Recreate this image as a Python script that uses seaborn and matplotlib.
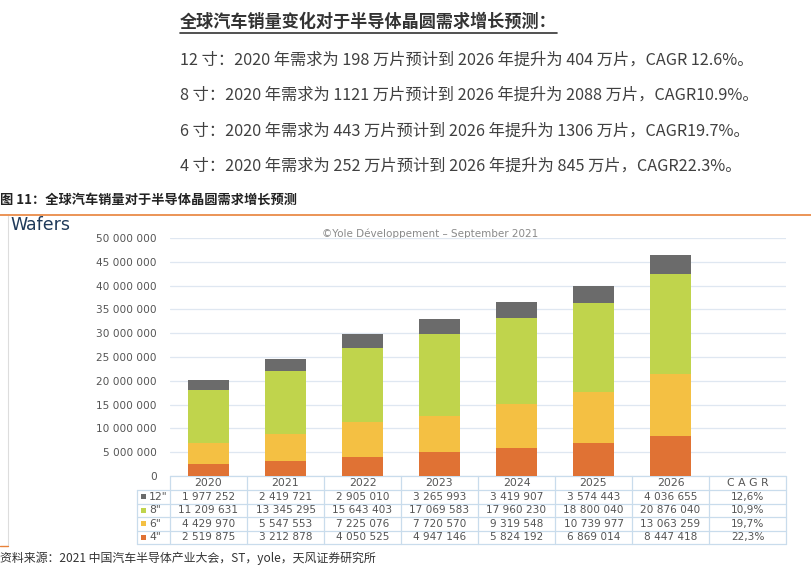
import numpy as np
import pandas as pd
import matplotlib
matplotlib.use("Agg")
import matplotlib.pyplot as plt
import seaborn as sns
from matplotlib.ticker import FuncFormatter
from matplotlib.patches import Rectangle

years = ["2020", "2021", "2022", "2023", "2024", "2025", "2026"]
w12 = [1977252, 2419721, 2905010, 3265993, 3419907, 3574443, 4036655]
w8 = [11209631, 13345295, 15643403, 17069583, 17960230, 18800040, 20876040]
w6 = [4429970, 5547553, 7225076, 7720570, 9319548, 10739977, 13063259]
w4 = [2519875, 3212878, 4050525, 4947146, 5824192, 6869014, 8447418]
cagr = [12.6, 10.9, 19.7, 22.3]
size_labels = ['12"', '8"', '6"', '4"']

title = "全球汽车销量变化对于半导体晶圆需求增长预测："
lines = [
    "12 寸：2020 年需求为 198 万片预计到 2026 年提升为 404 万片，CAGR 12.6%。",
    "8 寸：2020 年需求为 1121 万片预计到 2026 年提升为 2088 万片，CAGR10.9%。",
    "6 寸：2020 年需求为 443 万片预计到 2026 年提升为 1306 万片，CAGR19.7%。",
    "4 寸：2020 年需求为 252 万片预计到 2026 年提升为 845 万片，CAGR22.3%。",
]
caption = "图 11：全球汽车销量对于半导体晶圆需求增长预测"
source = "资料来源：2021 中国汽车半导体产业大会，ST，yole，天风证券研究所"

c12, c8, c6, c4 = "#6b6b6b", "#c0d44c", "#f4c043", "#e07234"

df = pd.DataFrame({"year": years, "w12": w12, "w8": w8, "w6": w6, "w4": w4})
df["s4"] = df["w4"]
df["s6"] = df["s4"] + df["w6"]
df["s8"] = df["s6"] + df["w8"]
df["s12"] = df["s8"] + df["w12"]

sns.set_theme(style="white")
plt.rcParams["font.family"] = ["Noto Sans CJK SC", "DejaVu Sans"]

fig = plt.figure(figsize=(8.11, 5.68), dpi=100)

# overlay in pixel coordinates for the page texts and the table
ov = fig.add_axes([0, 0, 1, 1], zorder=0)
ov.set_xlim(0, 811)
ov.set_ylim(568, 0)
ov.axis("off")

t = ov.text(180, 22, title, fontsize=12.3, fontweight="bold", color="#333333", va="center", ha="left")
for i, ln in enumerate(lines):
    ov.text(180, 60 + i * 35.5, ln, fontsize=11.7, color="#404040", va="center", ha="left")
ov.text(0, 200, caption, fontsize=9.5, fontweight="bold", color="#222222", va="center", ha="left")
ov.text(0, 558, source, fontsize=8.6, color="#333333", va="center", ha="left")

fig.canvas.draw()
bb = t.get_window_extent(fig.canvas.get_renderer())
ov.plot([bb.x0, bb.x1], [33, 33], color="#333333", lw=1.2)

ov.plot([0, 811], [215, 215], color="#e8823a", lw=1.2)
ov.plot([8, 8], [216, 545], color="#dddddd", lw=0.8)
ov.plot([0, 8], [546, 546], color="#e8823a", lw=1.0)

ov.text(10, 225, "Wafers", fontsize=12.5, color="#1f3a5a", va="center", ha="left",
        family="DejaVu Sans")
ov.text(430, 234, "©Yole Développement – September 2021", fontsize=7.5, color="#8a8a8a",
        va="center", ha="center", family="DejaVu Sans")

# table
x0, cw = 170, 77
row_tops = [476, 490, 503.5, 517, 530.5, 544]
lc = "#c9dcec"
tc = "#555555"
for k in range(9):
    ov.plot([x0 + k * cw] * 2, [row_tops[0], row_tops[-1]], color=lc, lw=0.9)
ov.plot([137, 137], [row_tops[1], row_tops[-1]], color=lc, lw=0.9)
ov.plot([x0, x0 + 8 * cw], [row_tops[0]] * 2, color=lc, lw=0.9)
for y in row_tops[1:]:
    ov.plot([137, x0 + 8 * cw], [y, y], color=lc, lw=0.9)

hy = (row_tops[0] + row_tops[1]) / 2
for i, yr in enumerate(years + ["C A G R"]):
    ov.text(x0 + cw * (i + 0.5), hy, yr, fontsize=7.8, color=tc, ha="center", va="center",
            family="DejaVu Sans")

rows = [w12, w8, w6, w4]
cols = [c12, c8, c6, c4]
for r, (vals, lab, col, cg) in enumerate(zip(rows, size_labels, cols, cagr)):
    yc = (row_tops[r + 1] + row_tops[r + 2]) / 2
    ov.add_patch(Rectangle((141, yc - 2.5), 5, 5, color=col, lw=0))
    ov.text(149, yc, lab, fontsize=7.8, color=tc, ha="left", va="center", family="DejaVu Sans")
    for i, v in enumerate(vals):
        ov.text(x0 + cw * (i + 0.5), yc, f"{v:,}".replace(",", " "), fontsize=7.6, color=tc,
                ha="center", va="center", family="DejaVu Sans")
    ov.text(x0 + cw * 7.5, yc, f"{cg:.1f}%".replace(".", ","), fontsize=7.6, color=tc,
            ha="center", va="center", family="DejaVu Sans")

# stacked bars
ax = fig.add_axes([170 / 811, 1 - 476 / 568, 616 / 811, 238 / 568], zorder=1)
ax.patch.set_alpha(0)
for col_name, col in [("s12", c12), ("s8", c8), ("s6", c6), ("s4", c4)]:
    sns.barplot(data=df, x="year", y=col_name, color=col, width=0.52, saturation=1,
                linewidth=0, errorbar=None, ax=ax)
ax.set_xlim(-0.5, 7.5)
ax.set_ylim(0, 50_000_000)
ax.set_yticks(np.arange(0, 50_000_001, 5_000_000))
ax.yaxis.set_major_formatter(FuncFormatter(lambda v, _: f"{int(v):,}".replace(",", " ")))
ax.set_xticks([])
ax.set_xlabel("")
ax.set_ylabel("")
ax.tick_params(axis="y", length=0, pad=9.5, labelsize=7.6, labelcolor="#555555")
for lab in ax.get_yticklabels():
    lab.set_family("DejaVu Sans")
ax.yaxis.grid(True, color="#dfe7f1", lw=0.9)
ax.set_axisbelow(True)
for s in ax.spines.values():
    s.set_visible(False)

fig.savefig("out.png", dpi=100)
